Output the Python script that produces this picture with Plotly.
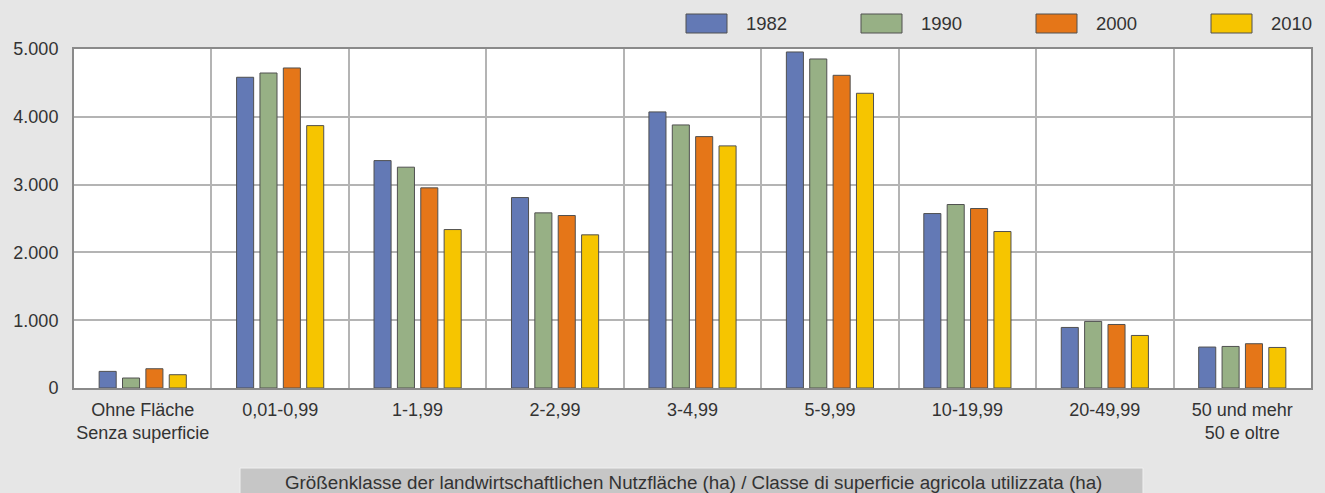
import plotly.graph_objects as go

categories = ["Ohne Fläche<br>Senza superficie", "0,01-0,99", "1-1,99", "2-2,99", "3-4,99",
              "5-9,99", "10-19,99", "20-49,99", "50 und mehr<br>50 e oltre"]
years = ["1982", "1990", "2000", "2010"]
v1982 = [245, 4583, 3354, 2809, 4072, 4956, 2573, 893, 604]
v1990 = [147, 4646, 3257, 2583, 3880, 4853, 2706, 982, 613]
v2000 = [284, 4720, 2952, 2544, 3708, 4612, 2647, 937, 653]
v2010 = [196, 3870, 2337, 2259, 3571, 4347, 2308, 775, 598]
series = [v1982, v1990, v2000, v2010]
colors = ["#6379b5", "#97b085", "#e57618", "#f6c500"]
xtitle = "Größenklasse der landwirtschaftlichen Nutzfläche (ha) / Classe di superficie agricola utilizzata (ha)"

fig = go.Figure()
for name, vals, col in zip(years, series, colors):
    fig.add_trace(go.Bar(x=categories, y=vals, name=name, marker_color=col,
                         marker_line=dict(color="#505050", width=1), showlegend=False))

W, H = 1325, 493
ml, mr, mt, mb = 74, 14, 49, 105
pw, ph = W - ml - mr, H - mt - mb

def px(x):
    return (x - ml) / pw

def py(y):
    return (H - mb - y) / ph

FONT = "Liberation Sans"
shapes = []
annotations = []
# custom legend
x0s = [686, 861, 1036, 1211]
for x0, col, name in zip(x0s, colors, years):
    shapes.append(dict(type="rect", xref="paper", yref="paper",
                       x0=px(x0), x1=px(x0 + 41), y0=py(33), y1=py(14),
                       fillcolor=col, line=dict(color="#505050", width=1)))
    annotations.append(dict(text=name, xref="paper", yref="paper", x=px(x0 + 58), y=py(24),
                            xanchor="left", yanchor="middle", showarrow=False,
                            font=dict(size=18.5, color="#333333", family=FONT)))

# axis title box
shapes.append(dict(type="rect", xref="paper", yref="paper",
                   x0=px(240), x1=px(1143), y0=py(500), y1=py(468),
                   fillcolor="#c6c6c6", line=dict(color="#f0f0f0", width=1), layer="below"))
annotations.append(dict(text=xtitle, xref="paper", yref="paper", x=px(693), y=py(482),
                        xanchor="center", yanchor="middle", showarrow=False,
                        font=dict(size=18.8, color="#333333", family=FONT)))

fig.update_layout(
    width=W, height=H,
    margin=dict(l=ml, r=mr, t=mt, b=mb, autoexpand=False),
    paper_bgcolor="#e6e6e6", plot_bgcolor="#ffffff",
    barmode="group", bargap=0.32, bargroupgap=0.27,
    separators=",.",
    font=dict(family=FONT, color="#333333"),
    shapes=shapes, annotations=annotations,
)
fig.update_xaxes(tickson="boundaries", showgrid=True, gridcolor="#b4b4b4", gridwidth=1.5,
                 ticks="", showline=True, linecolor="#8a8a8a", linewidth=2, mirror=True,
                 tickangle=0, automargin=False, ticklabelstandoff=4,
                 tickfont=dict(size=18, color="#333333"))
fig.update_yaxes(range=[0, 5000], dtick=1000, tickformat=",d", showgrid=True,
                 gridcolor="#b4b4b4", gridwidth=1.5, ticks="", showline=True,
                 linecolor="#8a8a8a", linewidth=2, mirror=True, zeroline=False,
                 automargin=False,
                 tickfont=dict(size=18, color="#333333"), ticklabelstandoff=10)

fig.write_html("out.html", config={"displayModeBar": False},
               post_script="document.body.style.margin='0';document.body.style.background='#e6e6e6';")
